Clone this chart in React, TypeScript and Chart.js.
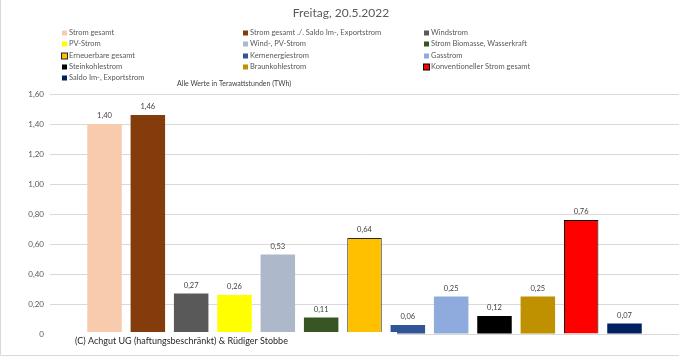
import React, { useEffect, useRef } from "react";
import { Chart, registerables } from "chart.js";

Chart.register(...registerables);

const chartTitle = "Freitag, 20.5.2022";
const subtitle = "Alle Werte in Terawattstunden (TWh)";
const credit = "(C) Achgut UG (haftungsbeschränkt) & Rüdiger Stobbe";

const categories = [""];

const seriesNames = [
  "Strom gesamt",
  "Strom gesamt ./. Saldo Im-, Exportstrom",
  "Windstrom",
  "PV-Strom",
  "Wind-, PV-Strom",
  "Strom Biomasse, Wasserkraft",
  "Erneuerbare gesamt",
  "Kernenergiestrom",
  "Gasstrom",
  "Steinkohlestrom",
  "Braunkohlestrom",
  "Konventioneller Strom gesamt",
  "Saldo Im-, Exportstrom",
];

const seriesValues = [1.40, 1.46, 0.27, 0.26, 0.53, 0.11, 0.64, 0.06, 0.25, 0.12, 0.25, 0.76, 0.07];

const seriesColors = [
  "#F8CBAD",
  "#843C0C",
  "#595959",
  "#FFFF00",
  "#ADB9CA",
  "#375623",
  "#FFC000",
  "#2F5597",
  "#8FAADC",
  "#000000",
  "#BF9000",
  "#FF0000",
  "#002060",
];

const seriesBorders = [
  "", "", "", "", "", "", "#262626", "", "", "", "", "#000000", "",
];

const yMin = 0;
const yMax = 1.6;
const yStep = 0.2;

const FONT = "Lato, 'Liberation Sans', sans-serif";

function fmt(v: number): string {
  if (Math.abs(v) < 1e-9) return "0";
  return v.toFixed(2).replace(".", ",");
}

const decorPlugin = {
  id: "decor",
  beforeDraw(chart: any) {
    const ctx = chart.ctx;
    const W = chart.width;
    const H = chart.height;
    ctx.save();
    ctx.fillStyle = "#ffffff";
    ctx.fillRect(0, 0, W, H);
    // frame
    ctx.strokeStyle = "#d9d9d9";
    ctx.lineWidth = 1;
    ctx.beginPath();
    ctx.moveTo(0.5, 0);
    ctx.lineTo(0.5, H - 1.5);
    ctx.lineTo(W, H - 1.5);
    ctx.stroke();
    // title
    ctx.fillStyle = "#595959";
    ctx.font = `12px ${FONT}`;
    ctx.textAlign = "center";
    ctx.textBaseline = "middle";
    ctx.fillText(chartTitle, 341, 13);
    // legend
    const colX = [62, 243, 424];
    const rowY = [33, 44, 56, 67, 78];
    ctx.font = `7.5px ${FONT}`;
    ctx.textAlign = "left";
    seriesNames.forEach((name, i) => {
      const col = i % 3;
      const row = Math.floor(i / 3);
      const x = colX[col];
      const y = rowY[row];
      const border = seriesBorders[i];
      if (border) {
        ctx.fillStyle = border;
        ctx.fillRect(x - 1, y - 3.5, 7, 7);
        ctx.fillStyle = seriesColors[i];
        ctx.fillRect(x, y - 2.5, 5, 5);
      } else {
        ctx.fillStyle = seriesColors[i];
        ctx.fillRect(x, y - 2.5, 5, 5);
      }
      ctx.fillStyle = "#595959";
      ctx.fillText(name, x + 7, y);
    });
    // subtitle
    ctx.font = `7px ${FONT}`;
    ctx.fillStyle = "#404040";
    ctx.fillText(subtitle, 177, 84);
    ctx.restore();
  },
  afterDatasetsDraw(chart: any) {
    const ctx = chart.ctx;
    ctx.save();
    ctx.font = `7.5px ${FONT}`;
    ctx.fillStyle = "#404040";
    ctx.textAlign = "center";
    ctx.textBaseline = "middle";
    chart.data.datasets.forEach((ds: any, i: number) => {
      const meta = chart.getDatasetMeta(i);
      meta.data.forEach((el: any, j: number) => {
        const v = ds.data[j];
        ctx.fillText(fmt(v), el.x, el.y - 8);
      });
    });
    ctx.restore();
  },
  afterDraw(chart: any) {
    const ctx = chart.ctx;
    ctx.save();
    ctx.fillStyle = "#ffffff";
    ctx.fillRect(46, 332, 351, 18);
    ctx.fillStyle = "#262626";
    ctx.font = `9px ${FONT}`;
    ctx.textAlign = "left";
    ctx.textBaseline = "middle";
    ctx.fillText(credit, 75, 341);
    ctx.restore();
  },
};

export default function App() {
  const ref = useRef<HTMLCanvasElement | null>(null);
  useEffect(() => {
    document.body.style.margin = "0";
    const canvas = ref.current;
    if (!canvas) return;
    const chart = new Chart(canvas, {
      type: "bar",
      data: {
        labels: categories,
        datasets: seriesNames.map((name, i) => ({
          label: name,
          data: [seriesValues[i]],
          backgroundColor: seriesColors[i],
          borderColor: seriesBorders[i] || seriesColors[i],
          borderWidth: seriesBorders[i] ? 1 : 0,
          categoryPercentage: 0.8956,
          barPercentage: 0.796,
        })),
      },
      options: {
        responsive: false,
        animation: false,
        devicePixelRatio: 1,
        layout: { padding: { top: 94, bottom: 23, left: 0, right: 0 } },
        plugins: {
          legend: { display: false },
          title: { display: false },
          tooltip: { enabled: false },
        },
        scales: {
          x: {
            display: false,
          },
          y: {
            min: yMin,
            max: yMax,
            afterFit: (scale: any) => {
              scale.width = 50;
            },
            afterBuildTicks: (scale: any) => {
              const t = [];
              for (let v = yMin; v <= yMax + 1e-9; v += yStep) t.push({ value: Math.round(v * 100) / 100 });
              scale.ticks = t;
            },
            border: { display: false },
            grid: { color: "#d9d9d9", lineWidth: 1, drawTicks: false, tickLength: 0 },
            ticks: {
              padding: 6,
              color: "#595959",
              font: { family: FONT, size: 8 },
              callback: (v: any) => fmt(Number(v)),
            },
          },
        },
      } as any,
      plugins: [decorPlugin],
    });
    return () => chart.destroy();
  }, []);
  return <canvas ref={ref} width={679} height={357} style={{ display: "block", width: 679, height: 357 }} />;
}
